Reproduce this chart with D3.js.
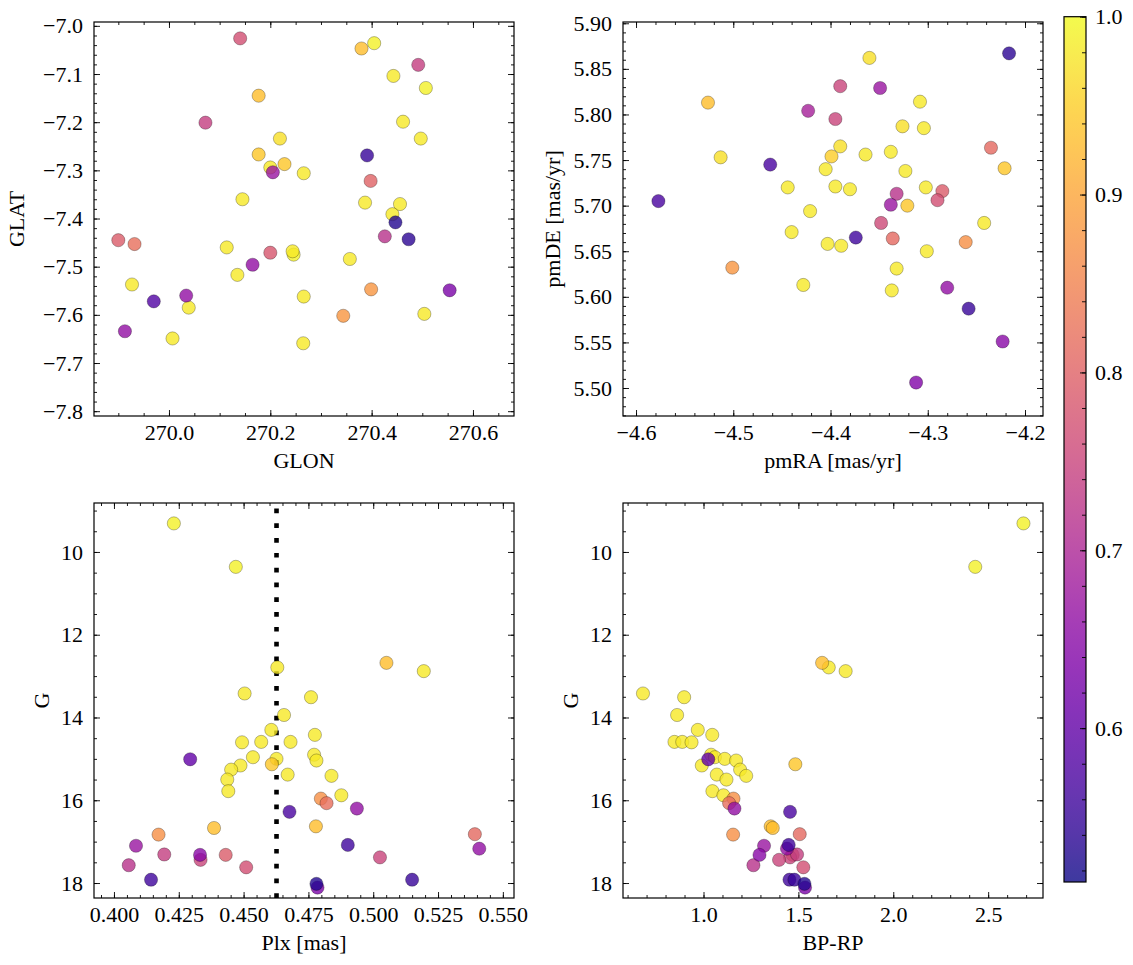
<!DOCTYPE html>
<html>
<head>
<meta charset="utf-8">
<script src="https://cdn.jsdelivr.net/npm/d3@7"></script>
<style>
  html, body { margin: 0; padding: 0; background: #fff; }
  svg { display: block; }
</style>
</head>
<body>
<svg id="chart" width="1133" height="965"></svg>
<script>
// ---------------- DATA ----------------
// Panel 1: Galactic coordinates
const glon = [270.1405, 270.380, 270.405, 270.492, 270.443, 270.507, 270.177, 270.072, 270.462, 270.219,
  270.497, 270.177, 270.391, 270.200, 270.205, 270.228, 270.266, 270.398, 270.145, 270.387,
  270.456, 270.441, 270.447, 270.473, 270.426, 269.900, 269.932, 270.114, 270.200, 270.244,
  270.246, 270.357, 270.165, 270.135, 269.927, 270.034, 269.970, 270.039, 270.266, 270.399,
  270.554, 270.344, 270.504, 269.913, 270.007, 270.265];
const glat = [-7.026, -7.047, -7.036, -7.081, -7.104, -7.129, -7.145, -7.201, -7.199, -7.234,
  -7.234, -7.267, -7.269, -7.294, -7.304, -7.287, -7.306, -7.322, -7.360, -7.367,
  -7.370, -7.391, -7.408, -7.443, -7.437, -7.445, -7.453, -7.460, -7.471, -7.468,
  -7.475, -7.484, -7.496, -7.517, -7.537, -7.560, -7.572, -7.585, -7.562, -7.547,
  -7.549, -7.602, -7.598, -7.634, -7.649, -7.659];
const probPos = [0.77, 0.93, 0.99, 0.74, 0.98, 0.99, 0.93, 0.74, 0.98, 0.97,
  0.98, 0.94, 0.55, 0.98, 0.67, 0.94, 0.98, 0.80, 0.98, 0.98,
  0.98, 0.98, 0.53, 0.54, 0.72, 0.79, 0.82, 0.98, 0.78, 0.98,
  0.99, 0.98, 0.66, 0.98, 0.98, 0.66, 0.58, 0.98, 0.98, 0.88,
  0.63, 0.88, 0.98, 0.66, 0.98, 0.98];

// Panel 2: proper motions
const pmra = [-4.2164, -4.360, -4.390, -4.349, -4.526, -4.308, -4.423, -4.395, -4.326, -4.304,
  -4.390, -4.235, -4.513, -4.399, -4.364, -4.338, -4.462, -4.405, -4.221, -4.323,
  -4.444, -4.395, -4.380, -4.302, -4.285, -4.290, -4.332, -4.338, -4.321, -4.577,
  -4.421, -4.348, -4.242, -4.440, -4.374, -4.336, -4.261, -4.403, -4.389, -4.301,
  -4.501, -4.332, -4.428, -4.337, -4.280, -4.258, -4.223, -4.312];
const pmde = [5.867, 5.862, 5.831, 5.829, 5.813, 5.814, 5.804, 5.795, 5.787, 5.785,
  5.765, 5.7635, 5.753, 5.754, 5.756, 5.759, 5.745, 5.740, 5.741, 5.738,
  5.720, 5.721, 5.718, 5.720, 5.716, 5.706, 5.713, 5.701, 5.700, 5.705,
  5.694, 5.681, 5.681, 5.671, 5.665, 5.664, 5.660, 5.658, 5.656, 5.650,
  5.632, 5.631, 5.613, 5.607, 5.610, 5.587, 5.551, 5.506];
const probPm = [0.54, 0.97, 0.75, 0.67, 0.93, 0.98, 0.69, 0.75, 0.97, 0.98,
  0.97, 0.81, 0.97, 0.95, 0.98, 0.98, 0.57, 0.98, 0.94, 0.98,
  0.98, 0.98, 0.98, 0.98, 0.79, 0.77, 0.72, 0.67, 0.94, 0.57,
  0.98, 0.76, 0.98, 0.98, 0.56, 0.81, 0.87, 0.98, 0.98, 0.98,
  0.88, 0.98, 0.98, 0.98, 0.66, 0.55, 0.65, 0.64];

// Panels 3 & 4: photometry / parallax (one entry per star)
const gmag = [9.31, 10.36, 12.68, 12.79, 12.88, 13.42, 13.51, 13.94, 14.30, 14.42,
  14.59, 14.59, 14.60, 14.90, 14.96, 15.00, 15.01, 15.04, 15.13, 15.16,
  15.26, 15.38, 15.41, 15.50, 15.78, 15.88, 15.96, 16.07, 16.20, 16.28,
  16.63, 16.67, 16.82, 16.83, 17.08, 17.10, 17.17, 17.31, 17.32, 17.32,
  17.38, 17.44, 17.57, 17.62, 17.92, 17.92, 18.02, 18.11];
const plx = [0.4231, 0.4470, 0.5051, 0.4630, 0.5195, 0.4504, 0.4760, 0.4656, 0.4607, 0.4775,
  0.4568, 0.4681, 0.4494, 0.4772, 0.4536, 0.4627, 0.4294, 0.4781, 0.4609, 0.4488,
  0.4452, 0.4670, 0.4839, 0.4437, 0.4441, 0.4877, 0.4798, 0.4820, 0.4937, 0.4677,
  0.4779, 0.4386, 0.5392, 0.4172, 0.4902, 0.4085, 0.5409, 0.4194, 0.4332, 0.4431,
  0.5026, 0.4334, 0.4057, 0.4510, 0.4143, 0.5150, 0.4781, 0.4785];
const bprp = [2.686, 2.432, 1.625, 1.660, 1.749, 0.681, 0.898, 0.861, 0.970, 1.046,
  0.847, 0.888, 0.937, 1.040, 1.060, 1.112, 1.025, 1.172, 1.484, 0.991,
  1.193, 1.070, 1.225, 1.121, 1.047, 1.105, 1.158, 1.135, 1.163, 1.456,
  1.354, 1.365, 1.507, 1.156, 1.449, 1.319, 1.440, 1.493, 1.295, 1.470,
  1.456, 1.398, 1.263, 1.526, 1.453, 1.479, 1.532, 1.535];
const probCmd = [0.99, 0.99, 0.93, 0.98, 0.98, 0.98, 0.98, 0.98, 0.98, 0.98,
  0.98, 0.98, 0.98, 0.98, 0.98, 0.98, 0.60, 0.98, 0.94, 0.98,
  0.98, 0.98, 0.98, 0.98, 0.98, 0.98, 0.87, 0.82, 0.66, 0.57,
  0.93, 0.93, 0.81, 0.87, 0.56, 0.67, 0.66, 0.74, 0.65, 0.79,
  0.75, 0.75, 0.72, 0.77, 0.56, 0.55, 0.53, 0.63];
const plxMean = 0.4627;

// Tick labels
const glonTicks = [270.0, 270.2, 270.4, 270.6];
const glatTicks = [-7.8, -7.7, -7.6, -7.5, -7.4, -7.3, -7.2, -7.1, -7.0];
const pmraTicks = [-4.6, -4.5, -4.4, -4.3, -4.2];
const pmdeTicks = [5.50, 5.55, 5.60, 5.65, 5.70, 5.75, 5.80, 5.85, 5.90];
const plxTicks = [0.400, 0.425, 0.450, 0.475, 0.500, 0.525, 0.550];
const gTicks = [10, 12, 14, 16, 18];
const bprpTicks = [1.0, 1.5, 2.0, 2.5];
const cbarTicks = [0.6, 0.7, 0.8, 0.9, 1.0];
const probRange = [0.5135, 1.0];

// ---------------- DRAWING ----------------
const svg = d3.select("#chart");
svg.append("rect").attr("width", 1133).attr("height", 965).attr("fill", "#fff");
const FONT = "'Liberation Serif', 'Times New Roman', serif";
const FS = 22;
const color = d3.scaleSequential(d3.interpolatePlasma).domain(probRange);
const minus = s => s.replace("-", "\u2212");

function rng(a, b, step) {
  const out = [];
  const n = Math.round((b - a) / step);
  for (let i = 0; i <= n; i++) out.push(+(a + i * step).toFixed(6));
  return out;
}

function styleAxis(g) {
  g.attr("font-family", FONT).attr("font-size", FS);
  g.select(".domain").remove();
  g.selectAll(".tick line").attr("stroke", "#000").attr("stroke-width", 0.9);
  g.selectAll(".tick text").attr("fill", "#000");
}

function panel(c) {
  const x = d3.scaleLinear().domain(c.xDomain).range([c.left, c.right]);
  const y = d3.scaleLinear().domain(c.yDomain).range([c.bottom, c.top]);
  const W = c.right - c.left, H = c.bottom - c.top;
  const clipId = "clip" + c.id;
  svg.append("clipPath").attr("id", clipId).append("rect")
    .attr("x", c.left).attr("y", c.top).attr("width", W).attr("height", H);

  const plot = svg.append("g").attr("clip-path", `url(#${clipId})`);

  if (c.vline !== undefined) {
    plot.append("line")
      .attr("x1", x(c.vline)).attr("x2", x(c.vline))
      .attr("y1", c.bottom).attr("y2", c.top)
      .attr("stroke", "#000").attr("stroke-width", 4.6)
      .attr("stroke-dasharray", "4.7,10.1");
  }

  const pts = c.xs.map((v, i) => ({ x: v, y: c.ys[i], p: c.ps[i] }))
    .sort((a, b) => b.p - a.p);
  plot.selectAll("circle.pt").data(pts).join("circle")
    .attr("class", "pt")
    .attr("cx", d => x(d.x)).attr("cy", d => y(d.y)).attr("r", 6.6)
    .attr("fill", d => color(d.p)).attr("fill-opacity", 0.8)
    .attr("stroke", "#000").attr("stroke-opacity", 0.3).attr("stroke-width", 0.9);

  const xMinor = rng(c.xMinor[0], c.xMinor[1], c.xMinor[2]).filter(v => v >= Math.min(...c.xDomain) && v <= Math.max(...c.xDomain));
  const yMinor = rng(c.yMinor[0], c.yMinor[1], c.yMinor[2]).filter(v => v >= Math.min(...c.yDomain) && v <= Math.max(...c.yDomain));

  // bottom
  svg.append("g").attr("transform", `translate(0,${c.bottom})`)
    .call(d3.axisBottom(x).tickValues(c.xTicks).tickSize(-6).tickPadding(8).tickFormat(c.xFmt))
    .call(styleAxis);
  svg.append("g").attr("transform", `translate(0,${c.bottom})`)
    .call(d3.axisBottom(x).tickValues(xMinor).tickSize(-3).tickFormat(""))
    .call(styleAxis);
  // top
  svg.append("g").attr("transform", `translate(0,${c.top})`)
    .call(d3.axisTop(x).tickValues(c.xTicks).tickSize(-6).tickFormat(""))
    .call(styleAxis);
  svg.append("g").attr("transform", `translate(0,${c.top})`)
    .call(d3.axisTop(x).tickValues(xMinor).tickSize(-3).tickFormat(""))
    .call(styleAxis);
  // left
  svg.append("g").attr("transform", `translate(${c.left},0)`)
    .call(d3.axisLeft(y).tickValues(c.yTicks).tickSize(-6).tickPadding(11).tickFormat(c.yFmt))
    .call(styleAxis);
  svg.append("g").attr("transform", `translate(${c.left},0)`)
    .call(d3.axisLeft(y).tickValues(yMinor).tickSize(-3).tickFormat(""))
    .call(styleAxis);
  // right
  svg.append("g").attr("transform", `translate(${c.right},0)`)
    .call(d3.axisRight(y).tickValues(c.yTicks).tickSize(-6).tickFormat(""))
    .call(styleAxis);
  svg.append("g").attr("transform", `translate(${c.right},0)`)
    .call(d3.axisRight(y).tickValues(yMinor).tickSize(-3).tickFormat(""))
    .call(styleAxis);

  svg.append("rect").attr("x", c.left).attr("y", c.top).attr("width", W).attr("height", H)
    .attr("fill", "none").attr("stroke", "#000").attr("stroke-width", 1.2);

  svg.append("text").attr("x", (c.left + c.right) / 2).attr("y", c.bottom + 52)
    .attr("text-anchor", "middle").attr("font-family", FONT).attr("font-size", FS)
    .text(c.xLabel);
  svg.append("text")
    .attr("transform", `translate(${c.yLabelX},${(c.top + c.bottom) / 2}) rotate(-90)`)
    .attr("text-anchor", "middle").attr("font-family", FONT).attr("font-size", FS)
    .text(c.yLabel);
}

const f1 = d => minus(d3.format(".1f")(d));
const f2 = d => minus(d3.format(".2f")(d));
const f3 = d => d3.format(".3f")(d);
const f0 = d => d3.format("d")(d);

panel({ id: 1, left: 94, right: 514, top: 22, bottom: 416,
  xDomain: [269.852, 270.681], yDomain: [-7.81, -6.992],
  xTicks: glonTicks, yTicks: glatTicks, xFmt: f1, yFmt: f1,
  xMinor: [269.85, 270.70, 0.05], yMinor: [-7.82, -6.98, 0.02],
  xs: glon, ys: glat, ps: probPos, xLabel: "GLON", yLabel: "GLAT", yLabelX: 24 });

panel({ id: 2, left: 623, right: 1043, top: 22, bottom: 416,
  xDomain: [-4.6134, -4.1815], yDomain: [5.4693, 5.9014],
  xTicks: pmraTicks, yTicks: pmdeTicks, xFmt: f1, yFmt: f2,
  xMinor: [-4.62, -4.18, 0.02], yMinor: [5.46, 5.91, 0.01],
  xs: pmra, ys: pmde, ps: probPm, xLabel: "pmRA [mas/yr]", yLabel: "pmDE [mas/yr]", yLabelX: 560 });

panel({ id: 3, left: 94, right: 514, top: 503, bottom: 898,
  xDomain: [0.3923, 0.5543], yDomain: [18.362, 8.817],
  xTicks: plxTicks, yTicks: gTicks, xFmt: f3, yFmt: f0,
  xMinor: [0.390, 0.555, 0.005], yMinor: [8.5, 18.5, 0.5],
  xs: plx, ys: gmag, ps: probCmd, xLabel: "Plx [mas]", yLabel: "G", yLabelX: 49,
  vline: plxMean });

panel({ id: 4, left: 623, right: 1043, top: 503, bottom: 898,
  xDomain: [0.5758, 2.789], yDomain: [18.362, 8.817],
  xTicks: bprpTicks, yTicks: gTicks, xFmt: f1, yFmt: f0,
  xMinor: [0.6, 2.8, 0.1], yMinor: [8.5, 18.5, 0.5],
  xs: bprp, ys: gmag, ps: probCmd, xLabel: "BP-RP", yLabel: "G", yLabelX: 578 });

// ---------------- COLORBAR ----------------
const cb = { left: 1064, right: 1086, top: 16.7, bottom: 882 };
const cy = d3.scaleLinear().domain(probRange).range([cb.bottom, cb.top]);
const grad = svg.append("defs").append("linearGradient").attr("id", "cbgrad")
  .attr("x1", 0).attr("y1", 1).attr("x2", 0).attr("y2", 0);
d3.range(0, 1.0001, 0.05).forEach(t => {
  grad.append("stop").attr("offset", t).attr("stop-color", d3.interpolatePlasma(t));
});
svg.append("rect").attr("x", cb.left).attr("y", cb.top)
  .attr("width", cb.right - cb.left).attr("height", cb.bottom - cb.top)
  .attr("fill", "url(#cbgrad)").attr("fill-opacity", 0.8);
const cbMinor = rng(0.52, 1.0, 0.02);
svg.append("g").attr("transform", `translate(${cb.right},0)`)
  .call(d3.axisRight(cy).tickValues(cbMinor).tickSize(-4).tickFormat(""))
  .call(styleAxis);
svg.append("g").attr("transform", `translate(${cb.right},0)`)
  .call(d3.axisRight(cy).tickValues(cbarTicks).tickSize(-6).tickPadding(9).tickFormat(d3.format(".1f")))
  .call(styleAxis);
svg.append("rect").attr("x", cb.left).attr("y", cb.top)
  .attr("width", cb.right - cb.left).attr("height", cb.bottom - cb.top)
  .attr("fill", "none").attr("stroke", "#000").attr("stroke-width", 1.2);
</script>
</body>
</html>
